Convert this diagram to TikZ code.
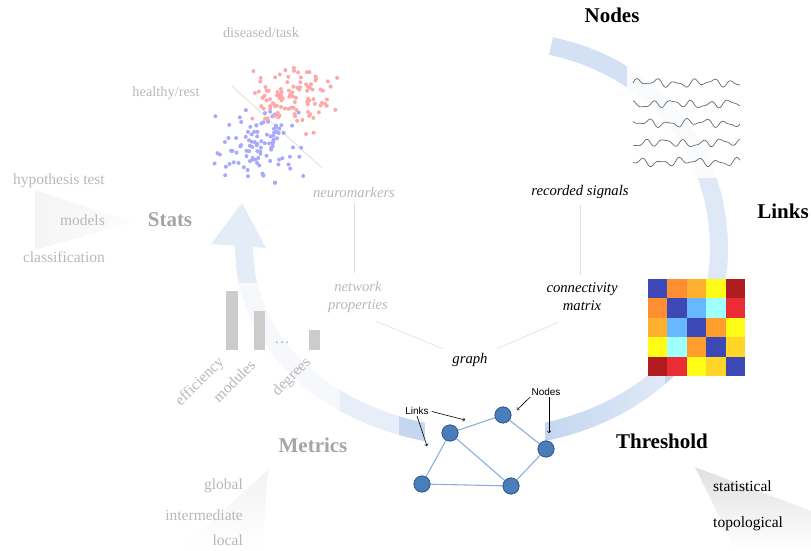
\documentclass[tikz,border=0pt]{standalone}
\usepackage{fontspec}
\setmainfont{Liberation Serif}
\newfontfamily\labelsans{Liberation Sans}
\usetikzlibrary{fadings}

\definecolor{bandblue}{RGB}{196,214,240}
\definecolor{faintgray}{RGB}{184,184,184}
\definecolor{titlegray}{RGB}{165,165,165}
\definecolor{sigray}{RGB}{105,105,105}
\definecolor{dotred}{RGB}{255,168,168}
\definecolor{dotblue}{RGB}{168,168,255}
\definecolor{nodefill}{RGB}{74,126,187}
\definecolor{nodeedge}{RGB}{52,92,146}
\definecolor{edgeblue}{RGB}{140,176,222}
\definecolor{guide}{RGB}{222,222,222}
% connectivity matrix colours
\definecolor{mb}{RGB}{60,72,182}
\definecolor{mo}{RGB}{255,142,50}
\definecolor{mlo}{RGB}{255,176,46}
\definecolor{my}{RGB}{255,252,24}
\definecolor{mdr}{RGB}{176,28,32}
\definecolor{mlb}{RGB}{104,184,255}
\definecolor{mc}{RGB}{160,255,255}
\definecolor{mr}{RGB}{234,44,52}
\definecolor{mo2}{RGB}{255,158,44}
\definecolor{mg}{RGB}{255,214,40}

\tikzfading[name=fadeleft, left color=transparent!100, right color=transparent!0]

\tikzset{
  title/.style={font=\fontsize{21}{25}\selectfont\bfseries, inner sep=1pt},
  gtitle/.style={title, text=titlegray},
  item/.style={font=\fontsize{15.5}{18}\selectfont, inner sep=1pt},
  gitem/.style={item, text=faintgray},
  note/.style={font=\fontsize{14.7}{18}\selectfont\itshape, inner sep=1pt, align=center},
  gnote/.style={note, text=faintgray},
  tag/.style={font=\labelsans\fontsize{10}{12}\selectfont, inner sep=1pt},
  gnode/.style={circle, draw=nodeedge, fill=nodefill, minimum size=16pt, inner sep=0pt, line width=.8pt},
  glink/.style={draw=edgeblue, line width=1.1pt},
  guideline/.style={draw=guide, line width=.6pt},
  bar/.style={fill=black!20},
  haze/.style={fill=white, draw=none}
}

\begin{document}
\begin{tikzpicture}[x=1pt, y=1pt]
  \useasboundingbox (0,0) rectangle (811,550);

  % soft wedges under the three lists
  \shade[left color=black!4, right color=black!1] (35,360) -- (133,328) -- (35,300) -- cycle;
  \shade[top color=black!5, bottom color=white] (268,80) -- (262,0) -- (180,0) -- cycle;
  \shade[top color=black!12, bottom color=white] (695,83) -- (811,39) -- (811,0) -- (735,0) -- cycle;

  % the big loop arrow
  \draw[bandblue, line width=18pt] (551,504) to[out=-12,in=90] (719,300) to[out=-90,in=0] (485,112) to[out=180,in=-90] (244,304);
  \fill[bandblue] (211,306) -- (242,347) -- (266,302) -- cycle;

  \fill[haze, fill opacity=.28] (540,455) rectangle (627,520);
  \fill[haze, fill opacity=.92] (627,372) rectangle (745,485);
  \fill[haze, fill opacity=.45] (690,271) rectangle (745,372);
  \fill[haze, fill opacity=.5, path fading=fadeleft] (545,95) rectangle (665,185);
  \fill[haze] (425,45) rectangle (545,155);
  \fill[haze, fill opacity=.6] (340,100) rectangle (399,190);
  \fill[haze, fill opacity=.85] (165,140) rectangle (340,267);
  \fill[haze, fill opacity=.55] (200,267) rectangle (280,352);

  % scatter of the two groups
  \draw[guide, line width=.8pt] (232,464) -- (322,382);
  \pgfmathsetseed{17}
  \foreach \i in {1,...,105}{
    \pgfmathsetmacro\sx{258+23*(rand+rand)}
    \pgfmathsetmacro\sy{403+22*(rand+rand)}
    \fill[dotblue] (\sx,\sy) circle (2pt);
  }
  \foreach \i in {1,...,105}{
    \pgfmathsetmacro\sx{295+24*(rand+rand)}
    \pgfmathsetmacro\sy{451+21*(rand+rand)}
    \fill[dotred] (\sx,\sy) circle (2pt);
  }

  % recorded signals
  \foreach \yy/\ph in {467/0, 446/70, 427/140, 407/210, 388/280}{
    \draw[sigray, line width=.7pt] plot[smooth, domain=0:107, samples=70] ({633+\x}, {\yy+2.8*sin(19*\x+\ph)+1.4*sin(31*\x+1.7*\ph)+1.2*sin(6*\x+3*\ph)});
  }

  % connectivity matrix
  \foreach \row [count=\r] in {{mb,mo,mlo,my,mdr},{mo,mb,mlb,mc,mr},{mlo,mlb,mb,mo2,my},{my,mc,mo2,mb,mg},{mdr,mr,my,mg,mb}}
    \foreach \cc [count=\k] in \row
      \fill[\cc] ({648+19.4*(\k-1)}, {271-19.4*(\r-1)}) rectangle +(19.4,-19.4);

  % network metrics bars
  \fill[bar] (226,200) rectangle (238,259);
  \fill[bar] (254,200) rectangle (265,239);
  \fill[bar] (309,200) rectangle (320,220);
  \node[gitem] (dots) at (282,207) {\dots};
  \node[gitem, rotate=45] (eff) at (200,168) {efficiency};
  \node[gitem, rotate=45] (mod) at (234,169) {modules};
  \node[gitem, rotate=45] (deg) at (292,173) {degrees};

  % graph
  \node[gnode] (g1) at (450,117) {};
  \node[gnode] (g2) at (503,135) {};
  \node[gnode] (g3) at (546,101) {};
  \node[gnode] (g4) at (511,64) {};
  \node[gnode] (g5) at (422,66) {};
  \draw[glink] (g1) -- (g2) -- (g3) -- (g4) -- (g5) -- (g1) -- (g4);
  \node[gnode] at (g1) {};
  \node[gnode] at (g2) {};
  \node[gnode] at (g3) {};
  \node[gnode] at (g4) {};
  \node[gnode] at (g5) {};

  \node[tag] (lnk) at (417,139) {Links};
  \node[tag] (nds) at (546,158) {Nodes};
  \coordinate (ltip1) at (465,130);
  \coordinate (ltip2) at (427,104);
  \coordinate (ntip1) at (517,140);
  \coordinate (ntip2) at (549,117);
  \draw[->, line width=.6pt, shorten <=2pt] (lnk.east) -- (ltip1);
  \draw[->, line width=.6pt] (lnk.south) -- (ltip2);
  \draw[->, line width=.6pt] (nds.south west) -- (ntip1);
  \draw[->, line width=.6pt] (nds.south -| ntip2) -- (ntip2);

  % titles
  \node[title] (nodes) at (612,535) {Nodes};
  \node[title] (links) at (783,339) {Links};
  \node[title] (thresh) at (662,109) {Threshold};
  \node[gtitle] (stats) at (170,330) {Stats};
  \node[gtitle] (metrics) at (313,105) {Metrics};

  % lists
  \node[item, anchor=west] (statl) at (712,64) {statistical};
  \node[item, anchor=west] (topol) at (712,26) {topological};
  \node[gitem, anchor=east] (hyp) at (106,369) {hypothesis test};
  \node[gitem, anchor=east] (models) at (106,330) {models};
  \node[gitem, anchor=east] (classif) at (106,293) {classification};
  \node[gitem, anchor=east] (glob) at (244,64) {global};
  \node[gitem, anchor=east] (inter) at (244,35) {intermediate};
  \node[gitem, anchor=east] (loc) at (244,10) {local};
  \node[gitem, font=\fontsize{14.4}{17}\selectfont] (dis) at (261,517) {diseased/task};
  \node[gitem, font=\fontsize{14.4}{17}\selectfont] (hea) at (166,457) {healthy/rest};

  % pipeline notes
  \node[gnote] (neuro) at (354,358) {neuromarkers};
  \node[note] (recsig) at (580,358) {recorded signals};
  \node[gnote] (netprop) at (358,253) {network\\properties};
  \node[note] (connmat) at (582,253) {connectivity\\matrix};
  \node[note] (graphlbl) at (470,190) {graph};

  \draw[guideline, shorten <=5pt, shorten >=7pt] (neuro.south) -- (neuro.south |- netprop.north);
  \draw[guideline, shorten <=5pt, shorten >=7pt] (recsig.south) -- (recsig.south |- connmat.north);
  \draw[guideline, shorten <=20pt, shorten >=8pt] (netprop.south) -- (graphlbl.north west);
  \draw[guideline, shorten <=9pt, shorten >=26pt] (graphlbl.north east) -- (connmat.south);
\end{tikzpicture}
\end{document}
